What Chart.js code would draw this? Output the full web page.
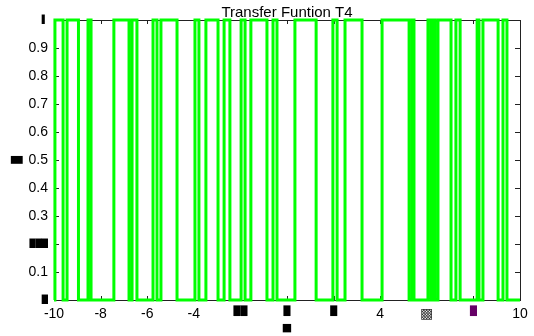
<!DOCTYPE html>
<html lang="en">
<head>
<meta charset="UTF-8">
<title>Transfer Funtion T4</title>
<script src="https://cdn.jsdelivr.net/npm/chart.js"></script>
<style>
  html, body { margin: 0; padding: 0; background: #fff; }
  #chart { display: block; }
</style>
</head>
<body>
<canvas id="chart" width="534" height="336"></canvas>
<script>
// x positions where the output flips between 0 and 1
const switchX = [
  -9.96, -9.61, -9.44, -8.95, -8.54, -8.41, -7.43, -6.78, -6.65, -6.44,
  -5.75, -5.58, -5.41, -4.72, -3.95, -3.78, -3.48, -2.96, -2.70, -2.45,
  -1.97, -1.80, -1.55, -0.86, -0.60, -0.43, 0.34, 1.25, 1.97, 2.15,
  2.49, 3.22, 4.08, 5.24, 5.37, 5.45, 6.05, 6.18, 6.27, 6.35,
  6.48, 7.04, 7.25, 7.43, 8.16, 8.24, 8.41, 9.06, 9.27, 9.44
];
// output level before the first switch, then after each switch
const levels = [
  0, 1, 0, 1, 0, 1, 0, 1, 0, 1, 0,
  1, 0, 1, 0, 1, 0, 1, 0, 1, 0,
  1, 0, 1, 0, 1, 0, 1, 0, 1, 0,
  1, 0, 1, 0, 1, 0, 1, 0, 1, 0,
  1, 0, 1, 0, 1, 0, 1, 0, 1, 0
];
const xMin = -10;
const xMax = 10;

const chartTitle = "Transfer Funtion T4";
const xTicks = [-10, -8, -6, -4, -2, 0, 2, 4, 6, 8, 10];
const xTickLabels = ["-10", "-8", "-6", "-4", "\u2588\u2588", "\u2588", "\u2588", "4", "\u25A9", "\u2588", "10"];
const yTicks = [0, 0.1, 0.2, 0.3, 0.4, 0.5, 0.6, 0.7, 0.8, 0.9, 1];
const yTickLabels = ["\u2588", "0.1", "\u2588\u2588\u2588", "0.3", "0.4", "0.5", "0.6", "0.7", "0.8", "0.9", "\u258C"];

// build the step polyline from the switch list
const points = [{ x: xMin, y: levels[0] }];
switchX.forEach((sx, i) => {
  points.push({ x: sx, y: levels[i] });
  points.push({ x: sx, y: levels[i + 1] });
});
points.push({ x: xMax, y: levels[levels.length - 1] });

const isBox = (s) => /[\u2580-\u25FF]/.test(s);
const textFont = { family: "Liberation Sans", size: 14 };
const boxFont = { family: "DejaVu Sans", size: 8 };

// box + inward ticks on all four sides, title centred over the plot
const framePlugin = {
  id: "frame",
  beforeDatasetsDraw(chart) {
    const { ctx, chartArea, scales } = chart;
    const { left, right, top, bottom } = chartArea;
    ctx.save();
    ctx.strokeStyle = "#222";
    ctx.lineWidth = 1;
    ctx.strokeRect(left + 0.5, top + 0.5, right - left, bottom - top);
    ctx.beginPath();
    xTicks.forEach((v) => {
      const px = Math.round(scales.x.getPixelForValue(v)) + 0.5;
      ctx.moveTo(px, bottom);
      ctx.lineTo(px, bottom - 4);
      ctx.moveTo(px, top);
      ctx.lineTo(px, top + 4);
    });
    yTicks.forEach((v) => {
      const py = Math.round(scales.y.getPixelForValue(v)) + 0.5;
      ctx.moveTo(left, py);
      ctx.lineTo(left + 5, py);
      ctx.moveTo(right, py);
      ctx.lineTo(right - 5, py);
    });
    ctx.stroke();
    ctx.restore();
  },
  afterDraw(chart) {
    const { ctx, chartArea } = chart;
    ctx.save();
    ctx.fillStyle = "#000";
    ctx.font = "15px 'Liberation Sans'";
    ctx.textAlign = "center";
    ctx.textBaseline = "alphabetic";
    ctx.fillText(chartTitle, (chartArea.left + chartArea.right) / 2, 17);
    ctx.restore();
  }
};

new Chart(document.getElementById("chart"), {
  type: "line",
  data: {
    datasets: [
      {
        data: points,
        borderColor: "#00ff00",
        borderWidth: 3,
        pointRadius: 0,
        tension: 0,
        fill: false,
        clip: false
      }
    ]
  },
  options: {
    responsive: false,
    animation: false,
    devicePixelRatio: 1,
    layout: { padding: { top: 20, right: 14 } },
    plugins: {
      legend: { display: false },
      tooltip: { enabled: false },
      title: { display: false }
    },
    scales: {
      x: {
        type: "linear",
        min: xMin,
        max: xMax,
        grid: { display: false, drawTicks: false },
        border: { display: false },
        afterBuildTicks(scale) {
          scale.ticks = xTicks.map((v) => ({ value: v }));
        },
        afterFit(scale) {
          scale.height = 36;
        },
        ticks: {
          autoSkip: false,
          maxRotation: 0,
          padding: 6,
          color: (c) => (c.index === 9 ? "#660066" : c.index === 8 ? "#333" : "#000"),
          font: (c) => (isBox(xTickLabels[c.index] || "") && c.index !== 8 ? { family: "DejaVu Sans", size: 9 } : textFont),
          callback: (v, i) => xTickLabels[i]
        },
        title: {
          display: true,
          text: "\u25A0",
          color: "#000",
          font: { family: "DejaVu Sans", size: 11, lineHeight: 1 },
          padding: { top: 0, bottom: 2 }
        }
      },
      y: {
        type: "linear",
        min: 0,
        max: 1,
        grid: { display: false, drawTicks: false },
        border: { display: false },
        afterBuildTicks(scale) {
          scale.ticks = yTicks.map((v) => ({ value: v }));
        },
        afterFit(scale) {
          scale.width = 54;
        },
        ticks: {
          autoSkip: false,
          padding: 6,
          color: "#000",
          font: (c) => (isBox(yTickLabels[c.index] || "") ? boxFont : textFont),
          callback: (v, i) => yTickLabels[i]
        },
        title: {
          display: true,
          text: "\u2588",
          color: "#000",
          font: { family: "DejaVu Sans", size: 10, lineHeight: 1 },
          padding: { top: 12, bottom: 0 }
        }
      }
    }
  },
  plugins: [framePlugin]
});
</script>
</body>
</html>
